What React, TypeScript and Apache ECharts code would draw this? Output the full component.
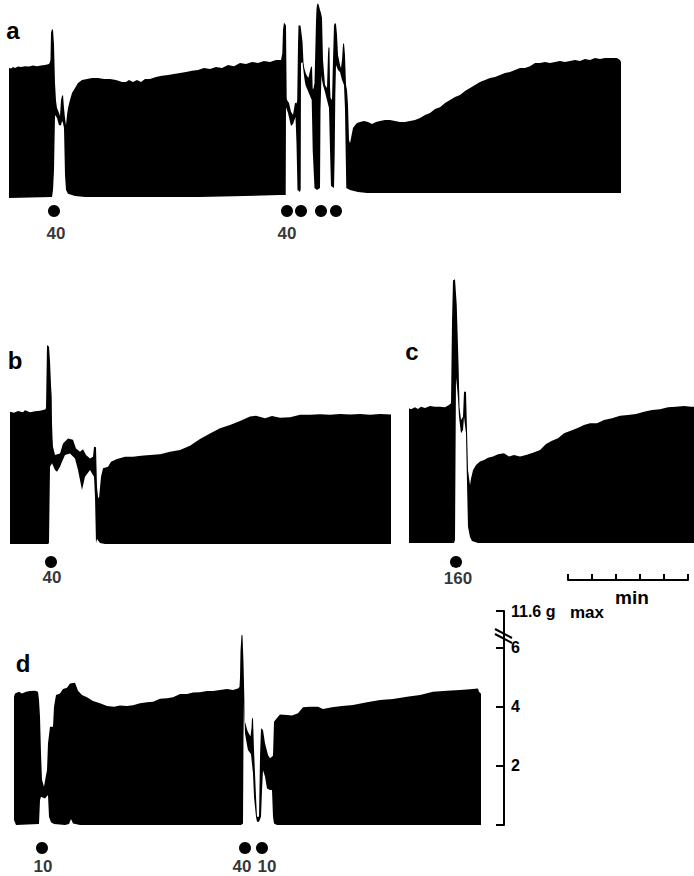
import React, { useEffect, useRef } from 'react';
import * as echarts from 'echarts';

// time is in recorder steps (2.5 s, so 24 steps = 1 min), force is in g
const STEPS_PER_GRAM = 29.5;

const aUpper = [
  [0, 4.41], [2, 4.39], [4, 4.44], [6, 4.41], [9, 4.46], [12, 4.44], [16, 4.47], [20, 4.46], [24, 4.49], [28, 4.47],
  [32, 4.49], [36, 4.51], [40, 4.54], [41, 4.61], [41.5, 4.7], [42, 5.6], [43, 5.72], [44, 5.7], [45, 5.2], [46, 3.9],
  [47, 3.3], [48, 3.05], [50, 2.88], [51, 2.78], [52, 3.32], [53, 3.46], [54, 3.49], [55, 3.05], [56, 2.71], [57, 2.47],
  [58, 2.81], [59, 3.05], [61, 3.32], [63, 3.56], [66, 3.73], [69, 3.9], [73, 4.0], [78, 4.03], [83, 4.07], [89, 4.07],
  [95, 4.03], [101, 4.03], [107, 4.0], [113, 3.93], [117, 3.93], [120, 4.0], [124, 3.93], [128, 4.0], [132, 3.93], [136, 4.03],
  [141, 4.03], [147, 4.1], [153, 4.14], [159, 4.17], [165, 4.2], [171, 4.24], [177, 4.27], [183, 4.31], [189, 4.34], [195, 4.41],
  [201, 4.37], [207, 4.44], [213, 4.41], [219, 4.51], [225, 4.47], [231, 4.58], [237, 4.54], [243, 4.61], [249, 4.58], [255, 4.64],
  [261, 4.61], [267, 4.68], [272, 4.68], [273.3, 4.9], [274, 5.7], [275, 5.95], [277, 5.85], [277.7, 3.4], [278, 3.32], [280, 3.22],
  [282, 2.92], [284, 2.81], [286, 3.22], [287, 3.22], [287.5, 3.2], [288.2, 3.3], [289, 5.2], [289.5, 5.85], [291.5, 5.85], [293.5, 5.3],
  [294.5, 4.58], [295.3, 4.4], [297, 4.2], [299.3, 4.07], [302, 4.45], [303, 4.45], [303.7, 3.7], [304.5, 3.7], [305.5, 3.9], [306.3, 5.0],
  [307, 6.0], [307.5, 6.4], [308, 6.55], [309, 6.6], [310, 6.51], [311, 6.37], [312, 6.27], [313, 6.1], [314, 4.68], [316, 3.83],
  [318, 3.73], [319, 4.9], [319.5, 5.1], [320.5, 5.1], [321, 3.8], [321.5, 3.4], [323, 3.32], [324, 4.68], [325, 5.86], [326, 5.93],
  [327, 5.9], [328, 5.53], [329, 4.85], [331, 4.51], [332, 4.41], [333, 4.68], [334, 5.22], [335, 5.25], [336, 4.85], [337, 3.83],
  [338, 3.66], [339, 3.15], [340, 1.97], [341, 1.86], [343, 2.2], [344, 2.37], [346, 2.47], [348, 2.54], [351, 2.58], [355, 2.61],
  [359, 2.58], [363, 2.51], [367, 2.58], [371, 2.61], [376, 2.64], [381, 2.64], [386, 2.61], [391, 2.58], [396, 2.58], [401, 2.61],
  [406, 2.64], [411, 2.71], [416, 2.81], [421, 2.88], [426, 3.02], [431, 3.08], [436, 3.22], [441, 3.32], [446, 3.42], [451, 3.49],
  [456, 3.63], [461, 3.73], [466, 3.83], [471, 3.93], [476, 4.0], [481, 4.07], [486, 4.1], [491, 4.17], [496, 4.24], [501, 4.27],
  [506, 4.34], [511, 4.41], [516, 4.41], [521, 4.47], [526, 4.58], [531, 4.58], [536, 4.61], [541, 4.58], [546, 4.61], [551, 4.64],
  [556, 4.61], [561, 4.64], [566, 4.68], [571, 4.64], [576, 4.71], [581, 4.68], [586, 4.75], [591, 4.71], [596, 4.75], [601, 4.75],
  [608, 4.75], [611, 4.68], [612, 4.61],
];
const aLower = [
  [0, 0], [43, 0.03], [44, 0.27], [45, 0.95], [46, 2.81], [48, 2.71], [50, 2.47], [52, 2.47], [53, 2.61], [54, 2.54],
  [55, 2.37], [56, 0.78], [57, 0.27], [59, 0.14], [66, 0.07], [76, 0.03], [191, 0.03], [271, 0.1], [276.7, 0.1], [277, 3.08],
  [279, 2.88], [282, 2.44], [284, 2.51], [286.5, 2.75], [287.5, 1.86], [288.5, 0.27], [291, 0.2], [291.7, 0.3], [292, 4.58], [293.5, 4.6],
  [295.3, 4.07], [296.5, 3.83], [299.3, 3.6], [302.7, 3.32], [303.7, 1.63], [305.5, 0.34], [308, 0.27], [311, 0.34], [311.5, 3.0], [312.5, 4.17],
  [313, 4.0], [314, 3.83], [316, 3.59], [318, 3.32], [319, 3.19], [320, 3.05], [321, 1.63], [322, 0.41], [325, 0.34], [325.7, 1.5],
  [326.3, 3.5], [327, 4.51], [329, 4.34], [331, 4.27], [333, 4.0], [335, 3.83], [336, 3.0], [336.7, 1.5], [337.3, 0.34], [341, 0.27],
  [349, 0.2], [358, 0.17], [612, 0.17],
];
const aDots = [[45, -0.44], [278, -0.44], [292, -0.44], [312, -0.44], [327, -0.44]];
const aDoses = [[47, -1.19, '40'], [278, -1.19, '40']];

const bUpper = [
  [0, 4.48], [4, 4.45], [8, 4.51], [13, 4.47], [15, 4.53], [20, 4.47], [25, 4.5], [30, 4.52], [35, 4.56], [36, 4.6],
  [37, 6.75], [39, 6.69], [40, 6.2], [41, 5.4], [41.7, 4.98], [42, 4.1], [42.5, 3.6], [43, 3.3], [45, 3.02], [50, 3.07],
  [53, 3.41], [58, 3.58], [63, 3.53], [66, 3.24], [70, 3.13], [73, 3.21], [76, 3.02], [80, 2.9], [83, 2.96], [84, 3.3],
  [86, 3.28], [87, 1.94], [88, 1.6], [89, 1.54], [91, 2.28], [93, 2.57], [98, 2.62], [101, 2.79], [107, 2.88], [115, 2.96],
  [123, 2.96], [131, 2.99], [140, 3.02], [150, 3.04], [160, 3.13], [170, 3.19], [180, 3.33], [190, 3.56], [200, 3.75], [210, 3.92],
  [220, 4.03], [230, 4.17], [240, 4.32], [246, 4.35], [255, 4.26], [262, 4.34], [270, 4.28], [280, 4.3], [290, 4.38], [300, 4.38],
  [310, 4.4], [320, 4.38], [330, 4.41], [340, 4.39], [350, 4.41], [360, 4.38], [370, 4.41], [381, 4.39],
];
const bLower = [
  [0, 0], [38, 0], [39, 0.03], [40, 2.62], [42, 2.74], [45, 2.51], [47, 2.45], [50, 2.62], [52, 2.79], [55, 3.02],
  [60, 3.07], [65, 2.9], [68, 2.51], [72, 1.83], [75, 2.28], [80, 2.51], [84, 2.28], [85, 1.6], [86, 0.03], [87, 0.17],
  [90, 0.03], [95, 0], [381, 0],
];
const bDots = [[41, -0.61]];
const bDoses = [[42, -1.15, '40']];

const cUpper = [
  [0, 4.57], [2, 4.53], [6, 4.6], [9, 4.54], [12, 4.62], [16, 4.58], [21, 4.64], [26, 4.62], [31, 4.62], [36, 4.6],
  [40, 4.68], [42, 4.74], [43, 7.5], [44, 8.9], [46, 8.94], [47.7, 8.1], [48.7, 7.0], [49.7, 5.85], [50.5, 4.6], [52, 4.17],
  [54, 4.28], [55, 5.13], [57, 5.13], [58, 3.83], [59, 2.47], [61, 1.97], [62, 2.19], [64, 2.47], [67, 2.64], [71, 2.76],
  [75, 2.81], [79, 2.89], [84, 2.93], [89, 3.01], [95, 3.04], [100, 2.93], [105, 2.98], [111, 2.93], [117, 2.98], [124, 3.06],
  [131, 3.15], [137, 3.36], [143, 3.47], [149, 3.55], [155, 3.72], [161, 3.8], [168, 3.89], [175, 4.0], [181, 4.06], [188, 4.06],
  [195, 4.17], [203, 4.23], [211, 4.31], [219, 4.34], [227, 4.37], [235, 4.45], [243, 4.51], [251, 4.53], [259, 4.6], [267, 4.62],
  [275, 4.64], [282, 4.62], [285, 4.62],
];
const cLower = [
  [0, 0], [45, 0], [46, 0.1], [47, 5.6], [48, 5.3], [49, 4.9], [50, 4.28], [52, 3.72], [54, 3.83], [55, 4.28],
  [57, 3.72], [58, 2.02], [59, 0.55], [61, 0.2], [63, 0.07], [69, 0], [285, 0],
];
const cDots = [[47, -0.64]];
const cDoses = [[49, -1.22, '160']];

const dUpper = [
  [0, 4.35], [1, 4.46], [5, 4.52], [8, 4.46], [12, 4.52], [16, 4.54], [21, 4.55], [24, 4.52], [25, 4.24], [26, 3.67],
  [27, 2.43], [28, 1.53], [30, 1.3], [32, 1.69], [33, 1.86], [34, 2.77], [36, 3.33], [39, 3.33], [40, 4.01], [42, 4.41],
  [46, 4.46], [49, 4.61], [53, 4.65], [56, 4.8], [61, 4.82], [64, 4.55], [68, 4.41], [73, 4.33], [79, 4.2], [86, 4.13],
  [93, 4.03], [100, 4.01], [106, 4.05], [113, 4.03], [119, 4.06], [126, 4.13], [133, 4.16], [139, 4.18], [146, 4.28], [153, 4.3],
  [159, 4.33], [166, 4.44], [173, 4.44], [179, 4.49], [186, 4.5], [193, 4.54], [199, 4.54], [206, 4.58], [213, 4.61], [219, 4.58],
  [224, 4.63], [225.5, 4.68], [226, 5.0], [226.5, 5.9], [227.5, 6.45], [228.5, 6.42], [229.5, 5.5], [230, 4.8], [230.5, 4.0], [231, 3.5],
  [233, 3.25], [234, 3.15], [236.5, 3.0], [237.5, 3.3], [238, 3.62], [239, 3.62], [240, 2.54], [242, 0.96], [243, 0.28], [245, 0.28],
  [246, 2.32], [247, 3.28], [249, 3.22], [251, 2.77], [254, 2.37], [256, 2.26], [259, 2.35], [260, 3.5], [264, 3.67], [266, 3.75],
  [273, 3.73], [278, 3.71], [284, 3.79], [289, 3.99], [296, 4.01], [304, 4.01], [309, 3.93], [318, 3.99], [328, 4.03], [339, 4.07],
  [353, 4.16], [366, 4.24], [379, 4.27], [393, 4.35], [406, 4.41], [419, 4.52], [433, 4.55], [446, 4.58], [456, 4.6], [464, 4.63],
  [465, 4.52], [467, 4.45],
];
const dLower = [
  [0, 0.17], [2, 0], [25, 0.03], [26, 0.85], [27, 0.96], [31, 0.9], [34, 1.02], [35, 0.28], [37, 0.09], [40, 0.03],
  [51, 0], [55, 0.03], [57, 0.2], [59, 0.05], [66, 0], [227, 0], [229, 0.05], [229.5, 3.0], [230, 4.24], [231, 3.11],
  [233, 2.71], [234, 2.54], [237, 2.4], [239, 1.75], [240, 0.96], [242, 0.28], [243, 0.11], [245, 0.11], [247, 0.28], [248, 1.19],
  [249, 1.86], [251, 1.64], [253, 1.24], [256, 1.19], [258, 1.19], [259, 0.28], [260, 0.05], [263, 0], [467, 0],
];
const dDots = [[28, -0.78], [231, -0.78], [248, -0.78]];
const dDoses = [[29, -1.42, '10'], [228, -1.42, '40'], [253, -1.42, '10']];

const forceTicks = { max: 7.25, interval: 2, top: '11.6 g' };
const scaleMinutes = 5;

const panels = [
  { upper: aUpper, lower: aLower, dots: aDots, doses: aDoses, left: 9, base: 198, width: 612, yMax: 6.7 },
  { upper: bUpper, lower: bLower, dots: bDots, doses: bDoses, left: 10, base: 544, width: 381, yMax: 7 },
  { upper: cUpper, lower: cLower, dots: cDots, doses: cDoses, left: 409, base: 543, width: 285, yMax: 9 },
  { upper: dUpper, lower: dLower, dots: dDots, doses: dDoses, left: 14, base: 825, width: 467, yMax: 6.6 },
];

const INK = '#000';
const TEXT_FONT = '"Liberation Sans", Arial, sans-serif';
const Y_MIN = -1.7;

function buildOption(): echarts.EChartsOption {
  const grid: any[] = [];
  const xAxis: any[] = [];
  const yAxis: any[] = [];
  const series: any[] = [];

  panels.forEach((p, i) => {
    grid.push({
      left: p.left,
      width: p.width,
      top: p.base - p.yMax * STEPS_PER_GRAM,
      height: (p.yMax - Y_MIN) * STEPS_PER_GRAM,
    });
    xAxis.push({ type: 'value', gridIndex: i, min: 0, max: p.width, show: false });
    yAxis.push({ type: 'value', gridIndex: i, min: Y_MIN, max: p.yMax, show: false });
    const common = { type: 'line', xAxisIndex: i, yAxisIndex: i, showSymbol: false, lineStyle: { width: 0 } };
    series.push({ ...common, z: 2, data: p.upper, areaStyle: { color: INK, opacity: 1 } });
    // the white under the trough of each twitch
    series.push({ ...common, z: 3, data: p.lower, areaStyle: { color: '#fff', opacity: 1 } });
    series.push({
      type: 'scatter', xAxisIndex: i, yAxisIndex: i, z: 4,
      symbolSize: 12, itemStyle: { color: INK, opacity: 1 }, data: p.dots,
    });
    series.push({
      type: 'scatter', xAxisIndex: i, yAxisIndex: i, z: 4,
      symbolSize: 1, itemStyle: { color: 'transparent' }, data: p.doses,
      label: {
        show: true, position: 'inside', color: INK, fontSize: 17, fontWeight: 'bold', fontFamily: TEXT_FONT,
        formatter: (d: any) => d.value[2],
      },
    });
  });

  // force calibration bar of panel d
  grid.push({ left: 504, width: 1, top: 611, height: 214 });
  xAxis.push({ type: 'value', gridIndex: 4, show: false });
  yAxis.push({
    type: 'value', gridIndex: 4, position: 'right', min: 0, max: forceTicks.max, interval: forceTicks.interval,
    axisLine: { show: true, lineStyle: { color: INK, width: 2 } },
    axisTick: { show: true, inside: true, length: 8, lineStyle: { color: INK, width: 2 } },
    axisLabel: {
      show: true, inside: false, margin: 6, color: INK, fontSize: 16, fontWeight: 'bold', fontFamily: TEXT_FONT,
      formatter: (v: number) => (v === 0 ? '' : v === forceTicks.max ? forceTicks.top : String(v)),
    },
    splitLine: { show: false },
  });

  // time scale bar
  grid.push({ left: 568, width: 120, top: 570, height: 10 });
  xAxis.push({
    type: 'value', gridIndex: 5, position: 'bottom', min: 0, max: scaleMinutes, interval: 1,
    axisLine: { show: true, lineStyle: { color: INK, width: 2 } },
    axisTick: { show: true, inside: true, length: 6, lineStyle: { color: INK, width: 2 } },
    axisLabel: { show: false },
    splitLine: { show: false },
  });
  yAxis.push({ type: 'value', gridIndex: 5, show: false });

  const label = (text: string, x: number, y: number, font: string) => ({
    type: 'text', x, y, z: 10,
    style: { text, font, fill: INK, align: 'center', verticalAlign: 'middle' },
  });
  const breakLine = (x1: number, y1: number, x2: number, y2: number) => ({
    type: 'line', z: 10, shape: { x1, y1, x2, y2 }, style: { stroke: INK, lineWidth: 2 },
  });

  return {
    animation: false,
    backgroundColor: '#fff',
    grid,
    xAxis,
    yAxis,
    series,
    graphic: [
      label('a', 13, 30, `bold 24px ${TEXT_FONT}`),
      label('b', 15, 360, `bold 24px ${TEXT_FONT}`),
      label('c', 412, 351, `bold 24px ${TEXT_FONT}`),
      label('d', 23, 663, `bold 24px ${TEXT_FONT}`),
      label('min', 632, 597, `bold 19px ${TEXT_FONT}`),
      label('max', 587, 612, `bold 17px ${TEXT_FONT}`),
      breakLine(495, 629, 512, 638),
      breakLine(495, 634, 512, 643),
    ],
  };
}

const App: React.FC = () => {
  const chartRef = useRef<HTMLDivElement>(null);

  useEffect(() => {
    if (!chartRef.current) return;
    const chart = echarts.init(chartRef.current, undefined, { renderer: 'svg' });
    chart.setOption(buildOption());
    return () => {
      chart.dispose();
    };
  }, []);

  return <div ref={chartRef} style={{ position: 'absolute', left: 0, top: 0, width: 694, height: 876 }} />;
};

export default App;
